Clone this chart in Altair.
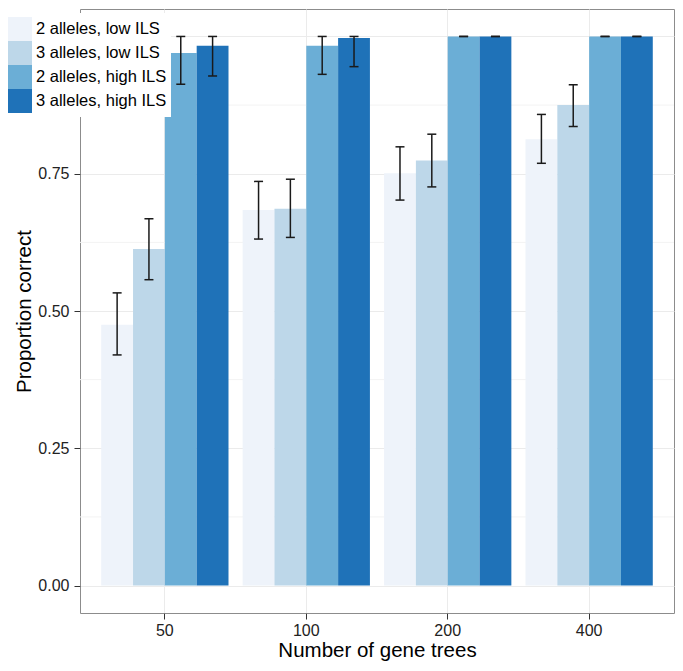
import altair as alt
import pandas as pd

trees = ["50", "100", "200", "400"]
series = ["2 alleles, low ILS", "3 alleles, low ILS", "2 alleles, high ILS", "3 alleles, high ILS"]
colors = ["#eef3fa", "#bdd7e9", "#6baed6", "#1f72b8"]

mean_2_low = [0.475, 0.684, 0.751, 0.813]
lo_2_low = [0.420, 0.631, 0.702, 0.769]
hi_2_low = [0.533, 0.736, 0.799, 0.858]

mean_3_low = [0.613, 0.686, 0.774, 0.875]
lo_3_low = [0.557, 0.634, 0.726, 0.836]
hi_3_low = [0.668, 0.740, 0.822, 0.912]

mean_2_high = [0.970, 0.983, 1.0, 1.0]
lo_2_high = [0.913, 0.931, 1.0, 1.0]
hi_2_high = [1.0, 1.0, 1.0, 1.0]

mean_3_high = [0.983, 0.997, 1.0, 1.0]
lo_3_high = [0.928, 0.945, 1.0, 1.0]
hi_3_high = [1.0, 1.0, 1.0, 1.0]

y_ticks = [0.0, 0.25, 0.5, 0.75, 1.0]
y_minor = [0.125, 0.375, 0.625, 0.875]

means = [mean_2_low, mean_3_low, mean_2_high, mean_3_high]
los = [lo_2_low, lo_3_low, lo_2_high, lo_3_high]
his = [hi_2_low, hi_3_low, hi_2_high, hi_3_high]

rows = []
for s, m, l, h in zip(series, means, los, his):
    for t, mv, lv, hv in zip(trees, m, l, h):
        rows.append({"trees": t, "series": s, "value": mv, "lo": lv, "hi": hv, "zero": 0.0})
df = pd.DataFrame(rows)
minor_df = pd.DataFrame({"v": y_minor})

FONT = "Liberation Sans"
yscale = alt.Scale(domain=[-0.05, 1.05], nice=False, zero=False)

x_enc = alt.X(
    "trees:N", sort=trees,
    scale=alt.Scale(paddingInner=0.1, paddingOuter=0.15),
    axis=alt.Axis(
        title="Number of gene trees", grid=True, bandPosition=0.5,
        gridColor="#ebebeb", gridWidth=1, domain=False,
        labelAngle=0, labelFontSize=16, labelColor="#222", labelPadding=3,
        tickSize=6, tickColor="#333", tickWidth=1,
        titleFontSize=20.5, titleColor="black", titleFontWeight="normal", titlePadding=2,
    ),
)
xoff = alt.XOffset("series:N", sort=series, scale=alt.Scale(paddingInner=0, paddingOuter=0))

bars = alt.Chart(df).mark_bar(strokeWidth=0).encode(
    x=x_enc,
    xOffset=xoff,
    y=alt.Y(
        "value:Q", scale=yscale,
        axis=alt.Axis(
            values=y_ticks, format=".2f", title="Proportion correct",
            grid=True, gridColor="#ebebeb", gridWidth=1, domain=False,
            labelFontSize=16, labelColor="#222", labelPadding=5,
            tickSize=6, tickColor="#333", tickWidth=1,
            titleFontSize=20.5, titleColor="black", titleFontWeight="normal", titlePadding=3,
        ),
    ),
    y2="zero:Q",
    color=alt.Color(
        "series:N", sort=series,
        scale=alt.Scale(domain=series, range=colors),
        legend=alt.Legend(
            title=None, orient="none", legendX=-76, legendY=4,
            symbolType="square", symbolSize=576, symbolStrokeWidth=0, symbolOpacity=1,
            rowPadding=0, labelFontSize=16.5, labelFont=FONT, labelColor="black",
            labelOffset=4, fillColor="white", padding=4, labelLimit=300,
        ),
    ),
)

minor = alt.Chart(minor_df).mark_rule(color="#f3f3f3", strokeWidth=1).encode(
    y=alt.Y("v:Q", scale=yscale)
)

err = alt.Chart(df).mark_rule(color="#1a1a1a", strokeWidth=1.5).encode(
    x=alt.X("trees:N", sort=trees), xOffset=xoff,
    y=alt.Y("lo:Q", scale=yscale), y2="hi:Q",
)
cap_lo = alt.Chart(df).mark_tick(color="#1a1a1a", thickness=1.5, size=9, opacity=1).encode(
    x=alt.X("trees:N", sort=trees), xOffset=xoff,
    y=alt.Y("lo:Q", scale=yscale),
)
cap_hi = alt.Chart(df).mark_tick(color="#1a1a1a", thickness=1.5, size=9, opacity=1).encode(
    x=alt.X("trees:N", sort=trees), xOffset=xoff,
    y=alt.Y("hi:Q", scale=yscale),
)

chart = alt.layer(minor, bars, err, cap_lo, cap_hi).properties(
    width=594, height=604,
    autosize=alt.AutoSizeParams(type="none"),
    padding={"left": 72, "top": 1, "right": 1, "bottom": 50},
).configure(font=FONT).configure_view(stroke="#8c8c8c", strokeWidth=1)

chart.save("out.html", embed_options={"renderer": "svg", "actions": False})
